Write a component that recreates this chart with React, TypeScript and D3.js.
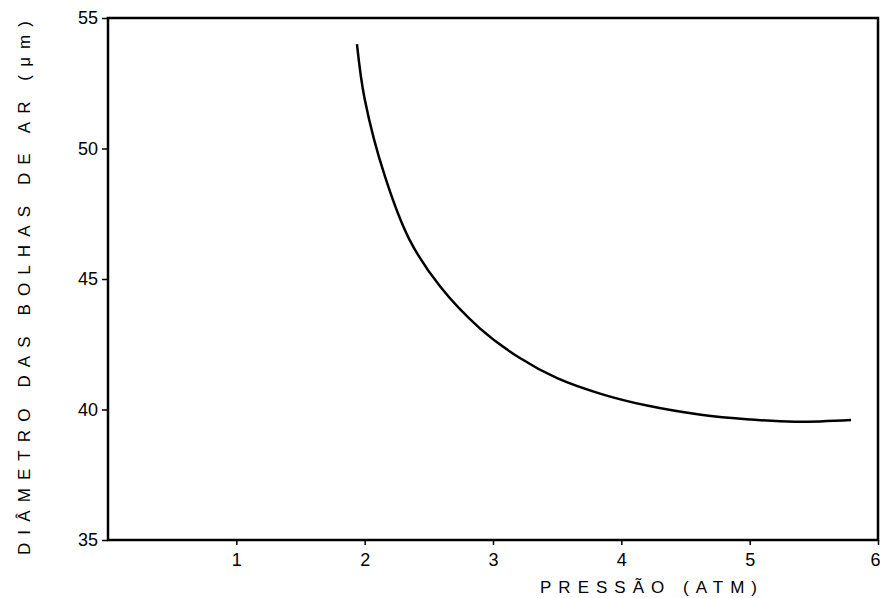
import React from "react";
import * as d3 from "d3";

// values (pressure in atm, bubble diameter in µm)
const pressure = [1.94, 2.0, 2.16, 2.35, 2.59, 2.9, 3.2, 3.5, 3.84, 4.2, 4.62, 5.0, 5.35, 5.79];
const diameter = [54.0, 51.9, 48.9, 46.5, 44.7, 43.1, 42.0, 41.2, 40.6, 40.15, 39.8, 39.62, 39.53, 39.6];

const xTicks = [1, 2, 3, 4, 5, 6];
const yTicks = [35, 40, 45, 50, 55];

const xTitle = "PRESSÃO (ATM)";
const yTitle = "DIÂMETRO DAS BOLHAS DE AR (μm)";

function App() {
  const svgRef = React.useRef<SVGSVGElement>(null);

  React.useEffect(() => {
    const width = 880;
    const height = 598;
    const margin = { top: 18, right: 2, bottom: 58, left: 108 };
    const font = "'Liberation Sans', Arial, sans-serif";

    const svg = d3.select(svgRef.current).attr("width", width).attr("height", height);
    svg.selectAll("*").remove();

    // scales
    const xScale = d3.scaleLinear().domain([0, 6]).range([margin.left, width - margin.right]);
    const yScale = d3.scaleLinear().domain([35, 55]).range([height - margin.bottom, margin.top]);

    // frame
    svg
      .append("rect")
      .attr("x", xScale(0))
      .attr("y", yScale(55))
      .attr("width", xScale(6) - xScale(0))
      .attr("height", yScale(35) - yScale(55))
      .attr("fill", "none")
      .attr("stroke", "#000")
      .attr("stroke-width", 2.5);

    // x axis
    const xAxis = d3.axisBottom(xScale).tickValues(xTicks).tickSize(5).tickPadding(8).tickFormat(d3.format("d"));
    const gx = svg.append("g").attr("transform", `translate(0, ${yScale(35)})`).call(xAxis);
    gx.select(".domain").remove();
    gx.selectAll("line").attr("stroke-width", 1.5);
    gx.selectAll("text").attr("font-family", font).attr("font-size", 18).attr("fill", "#000");
    // last label sits on the right edge, keep it inside
    gx.selectAll<SVGTextElement, number>("text").filter((d) => d === 6).attr("text-anchor", "end").attr("dx", 2);

    // y axis
    const yAxis = d3.axisLeft(yScale).tickValues(yTicks).tickSize(6).tickPadding(4).tickFormat(d3.format("d"));
    const gy = svg.append("g").attr("transform", `translate(${xScale(0)}, 0)`).call(yAxis);
    gy.select(".domain").remove();
    gy.selectAll("line").attr("stroke-width", 1.5);
    gy.selectAll("text").attr("font-family", font).attr("font-size", 18).attr("fill", "#000");

    // axis titles
    svg
      .append("text")
      .attr("x", 540)
      .attr("y", 593)
      .attr("font-family", font)
      .attr("font-size", 17)
      .attr("textLength", 217)
      .attr("lengthAdjust", "spacing")
      .text(xTitle);

    svg
      .append("text")
      .attr("transform", "translate(30, 555) rotate(-90)")
      .attr("font-family", font)
      .attr("font-size", 17)
      .attr("textLength", 534)
      .attr("lengthAdjust", "spacing")
      .text(yTitle);

    // curve
    const points = pressure.map((p, i) => [p, diameter[i]] as [number, number]);
    const line = d3
      .line<[number, number]>()
      .x((d) => xScale(d[0]))
      .y((d) => yScale(d[1]))
      .curve(d3.curveCatmullRom.alpha(0.5));

    svg
      .append("path")
      .datum(points)
      .attr("d", line)
      .attr("fill", "none")
      .attr("stroke", "#000")
      .attr("stroke-width", 2.5);
  }, []);

  return (
    <>
      <svg ref={svgRef} style={{ position: "absolute", left: 0, top: 0, background: "#fff" }} />
    </>
  );
}

export default App;
